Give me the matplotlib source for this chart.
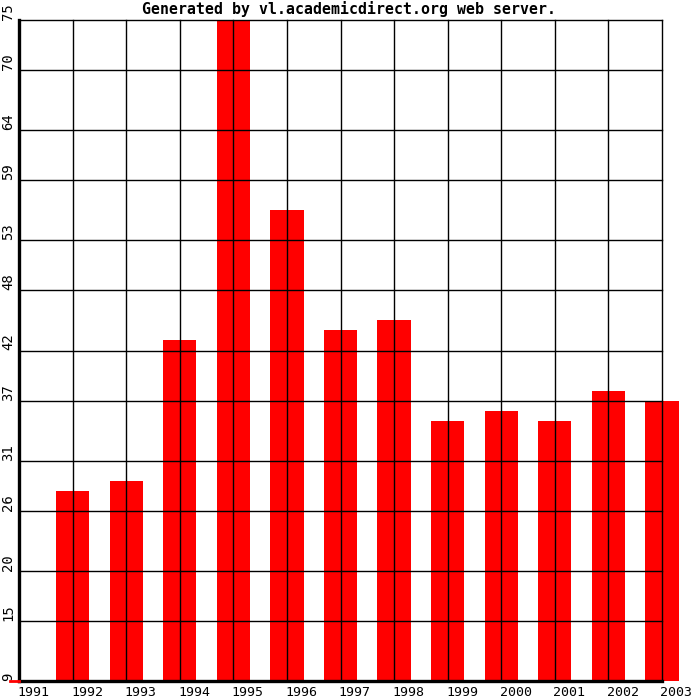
import numpy as np
import matplotlib
matplotlib.use("Agg")
import matplotlib.pyplot as plt

# données
years = [1991, 1992, 1993, 1994, 1995, 1996, 1997, 1998, 1999, 2000, 2001, 2002, 2003]
bar_years = [1992, 1993, 1994, 1995, 1996, 1997, 1998, 1999, 2000, 2001, 2002, 2003]
values = [28, 29, 43, 75, 56, 44, 45, 35, 36, 35, 38, 37]
y_ticks = [9, 15, 20, 26, 31, 37, 42, 48, 53, 59, 64, 70, 75]
title = "Generated by vl.academicdirect.org web server."

ymin, ymax = 9, 75
W, H = 700, 700

plt.rcParams['font.family'] = ['DejaVu Sans Mono']

fig = plt.figure(figsize=(W / 100, H / 100), dpi=100)
ax = fig.add_axes([19 / W, 19 / H, 643 / W, 661 / H])

ax.bar(bar_years, np.array(values) - ymin, bottom=ymin, width=0.62,
       align='center', color='#ff0000', zorder=1, clip_on=False)

ax.set_xlim(years[0], years[-1])
ax.set_ylim(ymin, ymax)

# grille noire par-dessus les barres
for y in y_ticks:
    ax.axhline(y, color='black', lw=1.0, zorder=2, clip_on=False)
for x in years:
    ax.axvline(x, color='black', lw=1.0, zorder=2, clip_on=False)

ax.set_xticks([])
ax.set_yticks([])
for s in ['top', 'right']:
    ax.spines[s].set_visible(False)
ax.spines['left'].set_linewidth(2.4)
ax.spines['bottom'].set_linewidth(2.4)
ax.spines['left'].set_zorder(3)
ax.spines['bottom'].set_zorder(3)

# étiquettes y verticales
for y in y_ticks:
    ax.text(-18 / 643, y, str(y), transform=ax.get_yaxis_transform(),
            rotation=90, ha='left', va='bottom', fontsize=10)

# étiquettes x alignées à gauche sur la grille
for x in years:
    ax.text(x - 0.03, -5 / 661, str(x), transform=ax.get_xaxis_transform(),
            ha='left', va='top', fontsize=9.5)

# petit trait rouge en bas à gauche
fig.add_artist(plt.Line2D([10 / W, 19 / W], [19 / H, 19 / H], color='#ff0000', lw=2))

fig.text(349 / W, 1 - 9 / H, title, ha='center', va='center',
         fontsize=10.7, fontweight='bold')

fig.savefig("out.png", dpi=100)
